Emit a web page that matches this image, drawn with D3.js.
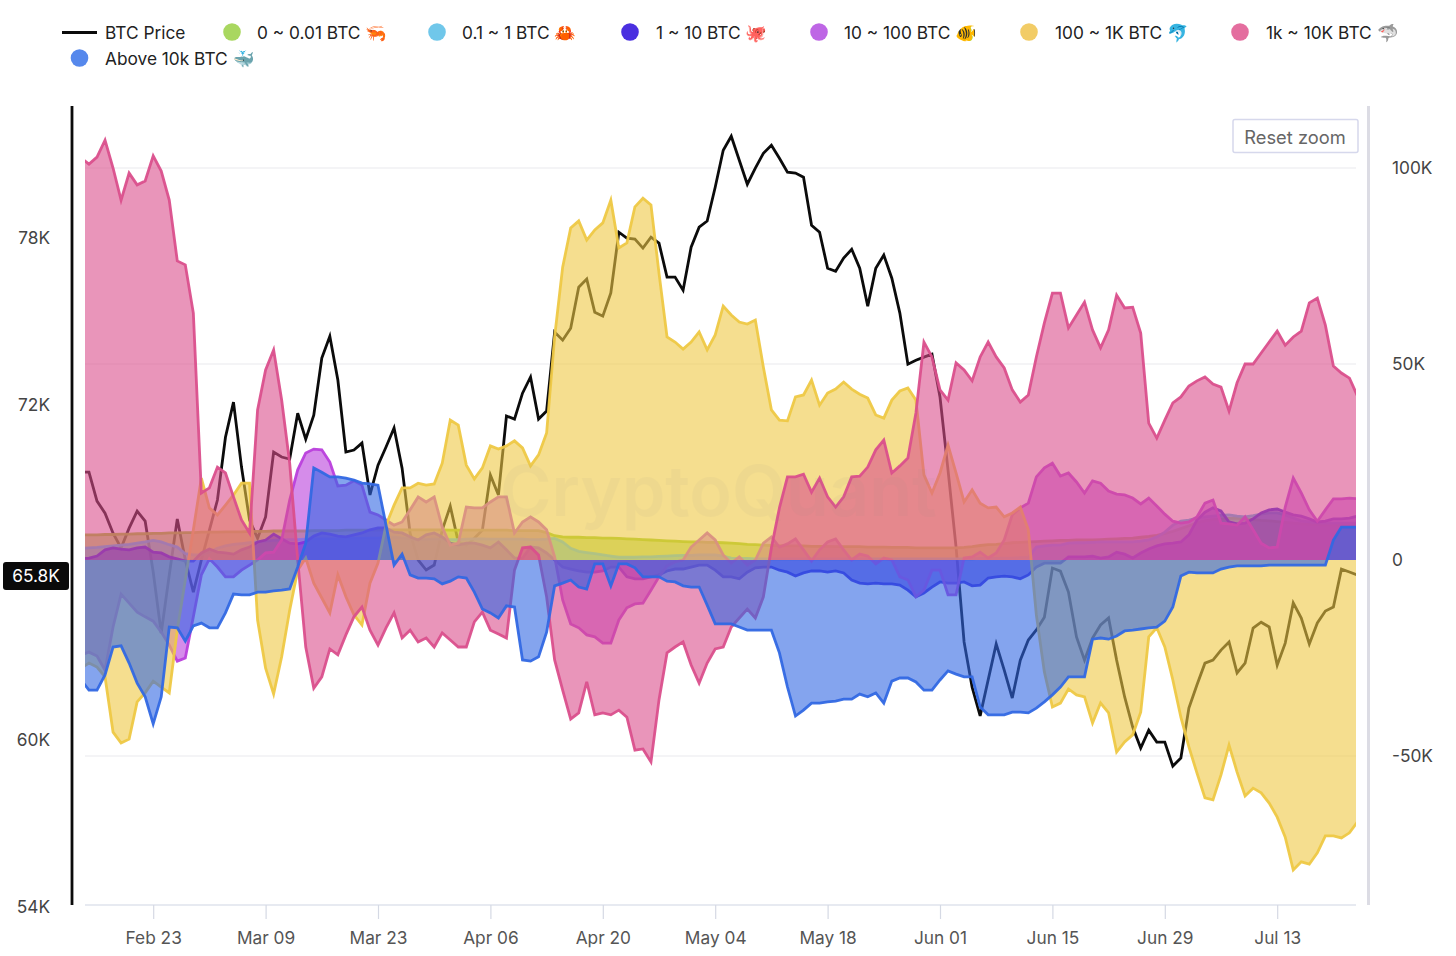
<!DOCTYPE html>
<html><head><meta charset="utf-8">
<script src="https://cdn.jsdelivr.net/npm/d3@7/dist/d3.min.js"></script>
<style>html,body{margin:0;padding:0;background:#fff}svg{display:block}text{font-family:Inter,Roboto,"Noto Sans",sans-serif}</style>
</head><body><svg id="c" width="1456" height="956"></svg>
<script>
const startDate="2025-02-14";
const xTickLabels=["Feb 23","Mar 09","Mar 23","Apr 06","Apr 20","May 04","May 18","Jun 01","Jun 15","Jun 29","Jul 13"];
const priceTicks=[54,60,72,78];
const flowTicks=[-50,0,50,100];
const currentPrice="65.8K";
const price=[69.59,69.59,68.55,68.12,67.40,66.87,67.58,68.19,67.83,66.01,
63.82,65.90,67.91,66.44,65.29,66.44,67.51,68.59,70.84,72.10,
69.77,67.87,67.22,67.98,70.31,70.13,70.06,71.70,70.77,71.63,
73.68,74.46,72.89,70.31,70.38,70.63,68.77,69.84,70.49,71.17,
69.73,67.40,66.44,66.08,66.26,67.51,68.37,67.08,66.97,67.22,
67.51,69.48,68.77,71.60,71.49,72.42,73.00,71.49,71.78,74.61,
74.32,74.75,76.22,76.51,75.32,75.18,76.01,78.19,77.98,77.94,
77.62,78.01,77.80,76.58,76.58,76.11,77.65,78.37,78.59,79.80,
81.13,81.63,80.77,79.91,80.49,81.02,81.31,80.84,80.34,80.31,
80.16,78.44,78.19,76.90,76.79,77.26,77.58,76.90,75.54,76.90,
77.37,76.54,75.29,73.46,73.60,73.71,73.82,72.28,69.66,66.90,
63.50,61.88,60.85,62.14,63.43,62.49,61.49,62.85,63.57,63.93,
64.39,66.15,66.04,65.29,63.68,62.85,63.64,64.11,64.36,62.85,
61.53,60.45,59.70,60.34,59.91,59.91,59.05,59.34,61.13,61.96,
62.74,62.85,63.21,63.50,62.39,62.74,64.00,64.21,64.04,62.67,
63.46,64.90,64.36,63.43,64.18,64.61,64.75,66.11,66.01,65.90];
const shrimp=[6.4,6.4,6.4,6.5,6.5,6.6,6.6,6.7,6.7,6.8,
6.8,6.9,6.9,7.0,7.0,7.1,7.1,7.1,7.2,7.2,
7.2,7.3,7.3,7.3,7.4,7.4,7.4,7.4,7.4,7.5,
7.5,7.5,7.5,7.6,7.6,7.6,7.6,7.6,7.7,7.7,
7.7,7.7,7.7,7.7,7.7,7.7,7.6,7.6,7.6,7.6,
7.6,7.6,7.6,7.6,7.5,7.5,7.5,7.5,7.0,6.2,
5.9,5.8,5.8,5.7,5.7,5.6,5.6,5.5,5.4,5.3,
5.2,5.1,5.0,4.9,4.8,4.7,4.6,4.6,4.5,4.5,
4.4,4.3,4.2,4.0,3.9,3.8,3.7,3.6,3.6,3.6,
3.6,3.5,3.5,3.5,3.4,3.4,3.4,3.4,3.3,3.3,
3.3,3.2,3.2,3.2,3.1,3.1,3.1,3.1,3.1,3.1,
3.2,3.4,3.7,3.9,4.0,4.2,4.4,4.5,4.6,4.7,
4.8,4.9,5.0,5.0,5.1,5.1,5.1,5.2,5.3,5.4,
5.5,5.6,5.8,6.0,6.3,6.7,7.3,8.0,8.7,9.5,
10.0,10.3,10.5,10.6,10.6,10.5,10.3,10.1,10.0,9.8,
9.6,9.4,9.2,9.1,9.0,8.9,8.9,8.9,8.9,8.9];
const crab=[3.0,3.1,3.2,3.4,3.6,3.8,4.0,4.3,4.6,5.0,
4.6,3.9,3.3,1.6,1.3,1.3,2.0,3.0,3.6,4.0,
4.2,4.4,4.6,4.8,5.0,5.1,5.2,5.2,5.3,5.4,
5.4,5.4,5.4,5.5,5.5,5.5,5.6,5.6,5.7,5.8,
5.6,5.4,5.2,5.2,5.3,5.3,5.2,5.2,5.3,5.4,
5.4,5.3,5.3,5.3,5.3,5.3,5.2,5.2,5.3,5.5,
4.6,3.0,2.2,1.9,1.6,1.3,1.0,0.7,0.7,0.7,
0.8,0.8,0.9,1.0,1.1,1.2,1.2,1.3,1.3,1.3,
1.0,0.5,0.4,0.4,0.3,0.3,0.3,0.3,0.3,0.3,
0.3,0.3,0.3,0.3,0.3,0.3,0.3,0.3,0.3,0.3,
0.3,0.3,0.3,0.3,0.3,0.3,0.3,0.3,0.3,0.3,
0.3,0.3,0.4,0.4,0.4,0.5,0.5,0.6,0.6,3.3,
3.6,3.8,3.8,4.3,4.4,4.4,4.5,4.6,4.6,4.6,
4.6,4.6,4.8,5.1,5.9,7.1,8.9,9.9,10.2,10.7,
11.0,11.2,11.4,11.5,11.2,11.0,11.3,11.7,12.0,12.0,
11.5,10.7,10.0,9.7,9.5,9.4,9.4,9.4,9.4,9.4];
const octopus=[0.3,0.5,1.0,2.6,3.1,2.8,2.6,3.1,3.3,2.0,
1.8,0.8,0.3,-0.3,-0.3,1.8,2.8,2.0,1.8,1.5,
2.6,3.3,4.6,5.1,6.6,5.4,4.3,4.1,4.6,6.1,
6.9,6.6,6.1,5.9,6.4,6.9,7.7,8.2,8.2,7.1,
6.9,5.9,5.1,6.4,6.9,5.9,4.3,3.8,4.3,4.3,
3.8,3.1,4.6,2.6,0.5,0.5,3.3,3.1,1.8,0,
-1.8,-2.3,-2.8,-3.1,-3.1,-2.8,-1.8,-1.8,-4.3,-4.8,
-4.8,-4.3,-3.8,-2.8,-2.3,-2.3,-1.8,-1.3,-1.3,-2.6,
-4.3,-4.3,-4.8,-3.1,-2.0,-1.8,-1.8,-2.6,-3.1,-4.1,
-3.3,-2.8,-2.8,-3.1,-2.8,-3.3,-5.1,-5.9,-6.1,-5.9,
-6.1,-6.1,-6.4,-7.7,-9.4,-8.4,-6.9,-5.6,-5.9,-5.9,
-5.6,-6.6,-6.4,-4.6,-4.3,-4.1,-4.3,-4.8,-3.8,-1.8,
-0.8,-0.8,-0.8,0.8,0.8,0.8,1.0,0.5,0.8,2.0,
1.5,0.5,1.8,2.8,3.6,4.1,4.3,4.6,6.4,10.2,
12.2,13.3,12.5,9.7,9.2,9.4,10.5,12.0,12.8,13.0,
12.2,11.5,11.2,10.5,9.7,9.9,10.5,10.5,10.7,11.2];
const fish=[-24.2,-23.5,-24.5,-28.1,-17.1,-8.7,-11.0,-13.3,-14.5,-15.6,
-18.4,-21.7,-25.8,-25.0,-14.5,-3.8,0.3,-1.8,-4.3,-4.3,
-2.6,-1.3,0,1.8,2.0,5.1,15.3,23.0,27.3,28.3,
28.1,25.0,18.9,19.1,20.2,19.1,12.2,11.5,10.2,8.9,
9.7,12.8,16.1,14.8,16.1,8.4,3.8,4.3,13.5,13.3,
13.3,14.8,16.1,16.1,6.9,9.7,11.0,9.7,7.7,0.8,
-10.2,-16.3,-17.3,-19.1,-19.6,-21.2,-21.2,-15.3,-12.2,-11.2,
-11.0,-7.7,-4.3,-1.5,-0.5,0,3.3,5.1,6.9,5.1,
1.3,-0.8,0.8,-1.3,0,4.3,5.9,3.3,4.1,5.4,
2.6,-0.3,2.6,4.6,5.4,2.6,0,1.5,1.0,-1.0,
0.5,0,-4.3,-5.1,-9.4,-7.7,-2.6,-2.6,-8.9,-8.9,
0.5,0.8,2.0,0.5,1.8,5.1,11.5,13.3,14.5,21.2,
23.5,24.7,21.4,22.2,19.9,17.1,20.2,19.6,17.6,16.8,
16.6,15.8,14.3,15.8,13.8,11.7,9.9,9.4,9.7,11.0,
14.5,15.3,9.4,9.2,8.9,11.0,7.7,4.3,3.1,3.3,
13.5,20.9,17.1,12.8,9.9,12.8,15.6,15.6,15.8,15.6];
const dolphin=[-27.6,-26.3,-27.3,-29.8,-43.9,-46.7,-45.7,-36.2,-33.9,-30.9,
-32.4,-33.9,-17.9,-5.1,7.7,20.9,13.3,11.5,14.0,16.6,
19.6,19.6,-15.3,-27.6,-34.2,-24.7,-12.8,-2.6,0.5,-5.9,
-9.7,-13.5,-3.8,-9.4,-14.0,-16.6,-5.9,-0.8,8.9,14.0,
18.4,18.4,19.6,19.1,19.4,24.7,35.7,34.4,24.2,20.7,
23.5,29.1,28.3,29.1,30.4,28.6,24.0,26.8,32.4,56.9,
74.7,84.7,86.5,81.6,84.2,86.0,91.8,79.6,80.9,90.1,
92.3,90.6,73.2,56.9,55.6,53.8,55.6,58.2,53.6,57.4,
64.8,62.5,60.7,60.2,61.2,49.2,38.3,35.7,35.5,41.6,
42.1,45.9,39.5,42.6,43.6,45.4,43.6,42.3,41.3,37.0,
36.2,40.8,43.1,43.9,40.8,21.7,17.1,22.2,29.3,22.2,
14.8,17.9,14.5,13.3,13.5,11.0,12.0,13.5,7.7,-14.0,
-28.6,-37.5,-36.5,-32.9,-34.4,-34.9,-41.6,-36.5,-39.0,-49.0,
-46.4,-44.6,-38.8,-19.6,-17.3,-22.2,-30.6,-40.1,-47.7,-54.3,
-60.7,-61.2,-54.8,-47.2,-54.1,-60.2,-58.2,-59.4,-62.0,-65.6,
-70.7,-79.1,-77.0,-77.6,-74.7,-70.4,-70.4,-70.9,-69.6,-66.8];
const shark=[102.6,101.0,102.8,107.1,100.0,91.8,98.7,95.7,96.7,103.1,
99.2,91.8,76.3,75.3,63.0,17.1,18.4,23.7,22.2,16.1,
10.2,6.9,38.3,48.5,53.6,40.8,24.7,0,-22.2,-32.7,
-29.8,-22.7,-24.2,-19.1,-14.5,-12.0,-17.9,-21.7,-17.3,-13.5,
-19.9,-17.9,-20.9,-19.9,-22.2,-18.6,-20.4,-22.2,-22.2,-15.8,
-13.3,-17.9,-18.9,-19.9,-2.6,3.1,3.3,1.3,-9.4,-25.5,
-33.2,-40.6,-39.0,-31.1,-39.5,-39.0,-39.5,-38.3,-40.1,-48.5,
-48.2,-51.5,-35.7,-23.7,-22.2,-20.9,-26.8,-31.4,-26.3,-22.7,
-22.2,-17.1,-14.8,-12.5,-14.8,-9.4,3.1,13.3,21.2,21.2,
21.9,17.3,20.9,16.1,13.5,16.1,21.2,21.4,23.7,28.1,
30.6,22.2,24.0,26.0,37.5,55.6,51.8,43.4,40.8,50.3,
48.5,45.7,51.8,55.6,51.8,49.0,43.4,40.3,42.1,51.8,
60.5,68.1,68.1,59.2,62.5,65.8,58.7,54.1,58.7,67.6,
64.3,64.5,57.9,34.9,31.1,35.7,40.1,41.6,44.4,45.7,
46.7,44.9,44.1,38.0,45.2,50.0,50.0,52.8,55.6,58.4,
54.8,56.9,58.4,65.6,66.8,59.9,49.5,47.7,46.4,41.8];
const whale=[-30.6,-33.2,-33.2,-29.3,-22.2,-21.9,-26.3,-31.4,-34.9,-41.8,
-34.9,-17.1,-17.3,-20.7,-16.8,-16.1,-17.3,-17.3,-13.5,-8.7,
-8.9,-8.9,-8.2,-8.2,-7.9,-7.7,-7.4,-1.8,4.3,23.5,
22.4,21.2,21.2,20.9,20.4,19.6,19.4,19.1,8.9,-1.3,
1.5,-3.8,-4.6,-4.6,-4.8,-6.1,-5.4,-4.3,-4.6,-8.2,
-12.5,-13.5,-14.8,-11.7,-12.0,-25.5,-25.8,-24.7,-18.4,-6.6,
-5.9,-5.1,-6.9,-7.4,-1.0,-1.0,-6.6,-1.0,-1.0,-2.0,
-4.3,-4.3,-4.3,-5.4,-5.6,-6.6,-6.9,-6.9,-11.5,-16.3,
-16.3,-16.3,-17.1,-17.9,-17.9,-17.9,-17.9,-23.7,-32.4,-39.8,
-38.3,-36.5,-36.5,-36.2,-36.0,-35.5,-35.5,-34.2,-34.9,-33.9,
-36.5,-30.9,-30.1,-30.1,-31.1,-33.2,-33.2,-30.6,-28.3,-29.1,
-29.8,-29.8,-37.5,-39.5,-39.5,-39.5,-38.8,-38.8,-39.0,-37.8,
-36.2,-34.4,-32.4,-29.8,-29.8,-29.8,-20.2,-19.9,-20.2,-19.4,
-18.1,-17.9,-17.6,-17.3,-17.1,-15.6,-12.0,-4.1,-3.1,-3.3,
-3.3,-3.3,-2.3,-1.8,-1.5,-1.5,-1.5,-1.5,-1.3,-1.3,
-1.3,-1.3,-1.3,-1.3,-1.3,-1.3,5.1,8.4,8.4,8.4];

const seriesNames=["0 ~ 0.01 BTC 🦐","0.1 ~ 1 BTC 🦀","1 ~ 10 BTC 🐙","10 ~ 100 BTC 🐠","100 ~ 1K BTC 🐬","1k ~ 10K BTC 🦈","Above 10k BTC 🐳"];
const seriesValues=[shrimp,crab,octopus,fish,dolphin,shark,whale];
const lineColors=["#98C81E","#4FB8E6","#3A1DDC","#B93FDC","#EEC845","#DA4F8C","#3268E3"];
const legendColors=["#A9D760","#70C7EA","#4A2FE0","#BE66E5","#F2CC66","#E46E9F","#5688EC"];

const svg=d3.select("#c");
const first=new Date(startDate+"T00:00:00Z");
const dates=price.map((_,i)=>d3.utcDay.offset(first,i));
const x=d3.scaleUtc().domain([d3.utcDay.offset(first,9),d3.utcDay.offset(first,149)]).range([153.2,1277.2]);
const yFlow=d3.scaleLinear().domain([0,100]).range([560,168]);
const yPrice=d3.scaleLinear().domain([54,78]).range([907,237.5]);
const plotL=85,plotR=1356,plotT=106,plotB=905;
const axisFont="Inter,Roboto,sans-serif";

svg.append("defs").append("clipPath").attr("id","plot").append("rect")
  .attr("x",plotL).attr("y",plotT).attr("width",plotR-plotL).attr("height",plotB-plotT);

svg.append("g").selectAll("line").data(flowTicks.filter(d=>d!==0)).join("line")
  .attr("x1",plotL).attr("x2",plotR).attr("y1",yFlow).attr("y2",yFlow)
  .attr("stroke","#f1f1f3").attr("stroke-width",1.5);

const plot=svg.append("g").attr("clip-path","url(#plot)");
const priceLine=d3.line().x((d,i)=>x(dates[i])).y(d=>yPrice(d));
plot.append("path").attr("d",priceLine(price)).attr("fill","none").attr("stroke","#0b0b0b").attr("stroke-width",2.8);

const area=d3.area().x((d,i)=>x(dates[i])).y0(yFlow(0)).y1(d=>yFlow(d));
const flowLine=d3.line().x((d,i)=>x(dates[i])).y(d=>yFlow(d));
seriesValues.forEach((vals,k)=>{
  plot.append("path").attr("d",area(vals)).attr("fill",lineColors[k]).attr("fill-opacity",0.6);
  plot.append("path").attr("d",flowLine(vals)).attr("fill","none").attr("stroke",lineColors[k]).attr("stroke-width",2.8).attr("stroke-opacity",0.95);
});

svg.append("text").attr("x",500).attr("y",516).attr("font-size",70).attr("font-weight",600).attr("fill","#888").attr("opacity",0.055).text("CryptoQuant");

const gx=svg.append("g").attr("transform",`translate(0,${plotB})`)
  .call(d3.axisBottom(x).tickValues(xTickLabels.map((_,i)=>d3.utcDay.offset(first,9+14*i))).tickFormat((d,i)=>xTickLabels[i]).tickSizeOuter(0).tickSize(14).tickPadding(13));
gx.select(".domain").attr("stroke","#dfe3ec").attr("stroke-width",1.5).attr("d",`M${plotL},0H${plotR}`);
gx.selectAll(".tick line").attr("stroke","#d5d9e4").attr("stroke-width",1.2);
gx.selectAll("text").attr("font-size",17.3).attr("fill","#555").style("font-family",axisFont);

const gl=svg.append("g").attr("transform","translate(50,0)")
  .call(d3.axisLeft(yPrice).tickValues(priceTicks).tickFormat(d=>d+"K").tickSize(0).tickPadding(0));
gl.select(".domain").remove();
gl.selectAll("text").attr("font-size",17.3).attr("fill","#444").style("font-family",axisFont);

const gr=svg.append("g").attr("transform","translate(1392,0)")
  .call(d3.axisRight(yFlow).tickValues(flowTicks).tickFormat(d=>d===0?"0":d+"K").tickSize(0).tickPadding(0));
gr.select(".domain").remove();
gr.selectAll("text").attr("font-size",17.3).attr("fill","#444").style("font-family",axisFont);

svg.append("line").attr("x1",72).attr("x2",72).attr("y1",106).attr("y2",905).attr("stroke","#0b0b0b").attr("stroke-width",2.8);
svg.append("line").attr("x1",1368.5).attr("x2",1368.5).attr("y1",106).attr("y2",905).attr("stroke","#dcdce4").attr("stroke-width",3);

svg.append("rect").attr("x",3).attr("y",562).attr("width",66).attr("height",28).attr("rx",3).attr("fill","#0a0a0a");
svg.append("text").attr("x",36).attr("y",582).attr("text-anchor","middle").attr("font-size",17.3).attr("fill","#fff").text(currentPrice);

svg.append("rect").attr("x",1233).attr("y",119.5).attr("width",125).attr("height",33).attr("rx",2).attr("fill","#fff").attr("stroke","#d6d8ec").attr("stroke-width",1.5);
svg.append("text").attr("x",1295).attr("y",144).attr("text-anchor","middle").attr("font-size",18.3).attr("fill","#666").text("Reset zoom");

const lg=svg.append("g");
lg.append("line").attr("x1",62).attr("x2",97).attr("y1",32.5).attr("y2",32.5).attr("stroke","#0b0b0b").attr("stroke-width",2.8);
lg.append("text").attr("x",105).attr("y",38.5).attr("font-size",17.3).attr("fill","#222").text("BTC Price");
const legendDots=[[232,32],[437,32],[630,32],[819,32],[1029,32],[1240,32],[79.5,58]];
const legendText=[257,462,656,844,1055,1266,105];
seriesNames.forEach((n,k)=>{
  lg.append("circle").attr("cx",legendDots[k][0]).attr("cy",legendDots[k][1]).attr("r",8.8).attr("fill",legendColors[k]);
  lg.append("text").attr("x",legendText[k]).attr("y",legendDots[k][1]+6.5).attr("font-size",17.3).attr("fill","#222").text(n);
});
</script></body></html>
